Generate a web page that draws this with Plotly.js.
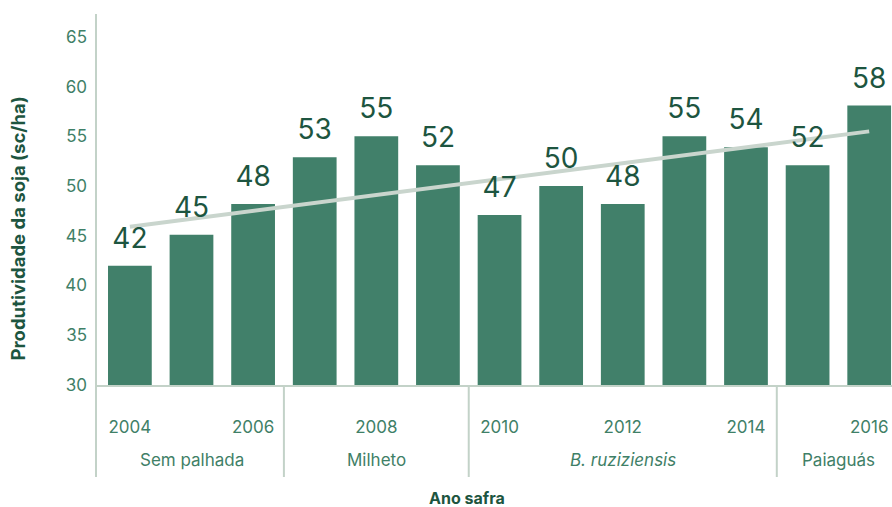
<!DOCTYPE html>
<html>
<head>
<meta charset="utf-8">
<script src="https://cdn.plot.ly/plotly-3.0.1.min.js"></script>
<style>html,body{margin:0;padding:0;background:#fff;}#chart{width:892px;height:507px;}</style>
</head>
<body>
<div id="chart"></div>
<script>
// Data
const years = [2004, 2005, 2006, 2007, 2008, 2009, 2010, 2011, 2012, 2013, 2014, 2015, 2016];
const yields = [42, 45.1, 48.2, 52.9, 55, 52.1, 47.1, 50, 48.2, 55, 53.9, 52.1, 58.1];
const trendYears = [2004, 2016];
const trendValues = [45.9, 55.5];
const tickYears = [2004, 2006, 2008, 2010, 2012, 2014, 2016];
const tickLabels = ['2004', '2006', '2008', '2010', '2012', '2014', '2016'];
const groupNames = ['Sem palhada', 'Milheto', '<i>B. ruziziensis</i>', 'Paiaguás'];
const groupCenters = [2005, 2008, 2012, 2015.5];
const groupBounds = [2006.5, 2009.5, 2014.5];

const FONT = 'Inter, Lato, sans-serif';
const tickColor = '#3f8067';
const darkGreen = '#1d5540';
const lineColor = '#c3d2c8';

const traces = [
  {
    type: 'bar', x: years, y: yields, width: 0.71,
    marker: {color: '#41806a'}, hoverinfo: 'x+y', showlegend: false
  },
  {
    type: 'scatter', mode: 'lines', x: trendYears, y: trendValues,
    line: {color: '#c9d5cd', width: 4}, showlegend: false, hoverinfo: 'skip'
  },
  {
    type: 'scatter', mode: 'markers+text', x: years, y: yields,
    marker: {size: 16, opacity: 0},
    texttemplate: '%{y:.0f}', textposition: 'top center',
    textfont: {family: FONT, size: 28, color: darkGreen},
    showlegend: false, hoverinfo: 'skip'
  }
];

const yTop = 67.3;
const annotations = groupNames.map((g, i) => ({
  xref: 'x', yref: 'paper', x: groupCenters[i], y: -0.202,
  text: g, showarrow: false, xanchor: 'center', yanchor: 'middle',
  font: {family: FONT, size: 17, color: tickColor}
}));
annotations.push({
  xref: 'paper', yref: 'paper', x: 0.466, y: -0.305, text: '<b>Ano safra</b>',
  showarrow: false, xanchor: 'center', yanchor: 'middle',
  font: {family: FONT, size: 16, color: darkGreen}
});
annotations.push({
  xref: 'paper', yref: 'paper', x: -0.0975, y: 0.423, text: '<b>Produtividade da soja (sc/ha)</b>',
  textangle: -90, showarrow: false, xanchor: 'center', yanchor: 'middle',
  font: {family: FONT, size: 18.5, color: darkGreen}
});

const shapes = groupBounds.map(b => ({
  type: 'line', xref: 'x', yref: 'paper', x0: b, x1: b, y0: 0, y1: -0.248,
  line: {color: lineColor, width: 2}
}));
shapes.push({
  type: 'line', xref: 'paper', yref: 'paper', x0: 0, x1: 0, y0: -0.248, y1: 1,
  line: {color: lineColor, width: 2}
});

const layout = {
  width: 892, height: 507,
  margin: {l: 96, r: 0, t: 14, b: 122},
  paper_bgcolor: '#ffffff', plot_bgcolor: '#ffffff',
  font: {family: FONT},
  xaxis: {
    range: [2003.45, 2016.37], tickmode: 'array', tickvals: tickYears, ticktext: tickLabels,
    showgrid: false, zeroline: false, showline: true, linecolor: lineColor, linewidth: 2,
    ticks: '', ticklabelstandoff: 26,
    tickfont: {family: FONT, size: 17, color: tickColor}, fixedrange: true
  },
  yaxis: {
    range: [30, yTop], tickmode: 'array', tickvals: [30, 35, 40, 45, 50, 55, 60, 65],
    showgrid: false, zeroline: false, showline: false, ticks: '', ticklabelstandoff: 8,
    tickfont: {family: FONT, size: 17, color: tickColor}, fixedrange: true
  },
  bargap: 0.29,
  annotations: annotations,
  shapes: shapes
};

Plotly.newPlot('chart', traces, layout, {displayModeBar: false, staticPlot: true});
</script>
</body>
</html>
